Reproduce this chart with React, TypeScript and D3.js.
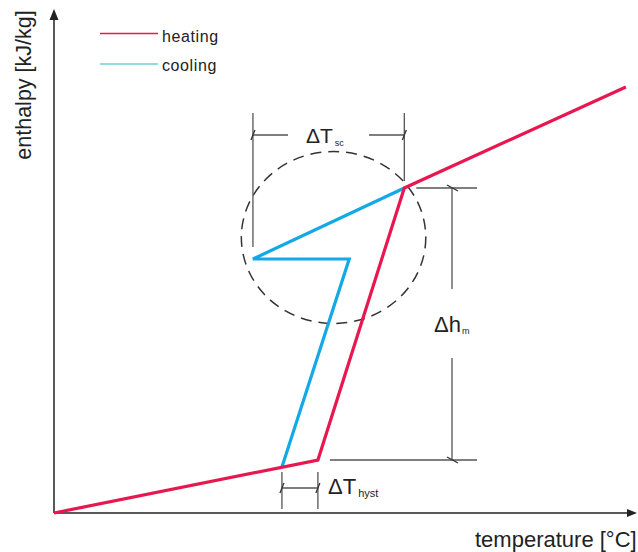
import React from "react";
import * as d3 from "d3";

// schematic values in arbitrary units (the sketch has no tick numbers)
const heatingT = [0, 45.5, 60.4, 98.6];
const heatingH = [0, 10.6, 65, 85.2];
const coolingT = [39.3, 50.9, 34.3, 60.4];
const coolingH = [9.2, 50.8, 50.8, 65];

// dashed circle around the supercooling loop
const circleCenter = [48.2, 55.1];
const circleRadius = [15.9, 17.2];

const seriesNames = ["heating", "cooling"];
const axisTitles = ["temperature [°C]", "enthalpy [kJ/kg]"];
const dimLabels = [
  ["ΔT", "sc"],
  ["Δh", "m"],
  ["ΔT", "hyst"],
];

const W = 638;
const H = 552;
const FONT = "'Liberation Sans', Arial, Helvetica, sans-serif";
const HEAT = "#e8174f";
const COOL = "#13a9e6";
const DIM = "#555";

const App = () => {
  const x = d3.scaleLinear().domain([0, 100]).range([54, 634]);
  const y = d3.scaleLinear().domain([0, 100]).range([513, 13]);

  const line = d3
    .line<number>()
    .x((d) => x(d))
    .curve(d3.curveLinear);

  const heatPath = d3
    .line<number>()
    .x((d, i) => x(heatingT[i]))
    .y((d) => y(d))(heatingH);
  const coolPath = d3
    .line<number>()
    .x((d, i) => x(coolingT[i]))
    .y((d) => y(d))(coolingH);

  // key positions for the dimension lines
  const peakX = x(heatingT[2]);
  const peakY = y(heatingH[2]);
  const kinkX = x(heatingT[1]);
  const kinkY = y(heatingH[1]);
  const scLeftX = x(coolingT[2]);
  const scLeftY = y(coolingH[2]);
  const hystLeftX = x(coolingT[0]);

  // small slanted ticks where dimension lines meet extension lines
  const hTick = (px: number, py: number, k: string) => (
    <line key={k} x1={px - 2} y1={py + 5} x2={px + 2} y2={py - 5} stroke="#333" strokeWidth={1.3} />
  );
  const vTick = (px: number, py: number, k: string) => (
    <line key={k} x1={px - 5} y1={py - 3} x2={px + 6} y2={py + 3} stroke="#333" strokeWidth={1.3} />
  );

  const scY = 135;
  const dimX = 452;
  const hystY = 488;

  return (
    <svg
      width={W}
      height={H}
      style={{ position: "absolute", left: 0, top: 0, background: "#fff", fontFamily: FONT }}
    >
      {/* axes */}
      <g stroke="#222" strokeWidth={1.5}>
        <line x1={x(0)} y1={y(0)} x2={630} y2={y(0)} />
        <line x1={x(0)} y1={y(0)} x2={x(0)} y2={16} />
      </g>
      <polygon points={`637,${y(0)} 627,${y(0) - 4} 627,${y(0) + 4}`} fill="#222" />
      <polygon points={`${x(0)},9 ${x(0) - 4.5},20 ${x(0) + 4.5},20`} fill="#222" />
      <text x={475} y={547} fontSize={22} fill="#222">
        {axisTitles[0]}
      </text>
      <text transform="translate(31,85) rotate(-90)" textAnchor="middle" fontSize={21.5} fill="#222">
        {axisTitles[1]}
      </text>

      {/* legend */}
      <line x1={100} y1={33.5} x2={158} y2={33.5} stroke={HEAT} strokeWidth={1.3} />
      <line x1={100} y1={64} x2={158} y2={64} stroke="#6fcfd8" strokeWidth={1.3} />
      <text x={162} y={41.5} fontSize={16} letterSpacing={0.6} fill="#222">
        {seriesNames[0]}
      </text>
      <text x={162} y={70.5} fontSize={16} letterSpacing={0.6} fill="#222">
        {seriesNames[1]}
      </text>

      {/* dashed circle */}
      <ellipse
        cx={x(circleCenter[0])}
        cy={y(circleCenter[1])}
        rx={x(circleRadius[0]) - x(0)}
        ry={y(0) - y(circleRadius[1])}
        fill="none"
        stroke="#333"
        strokeWidth={1.5}
        strokeDasharray="11 7"
      />

      {/* ΔT_sc dimension */}
      <g stroke={DIM} strokeWidth={1.3}>
        <line x1={scLeftX} y1={113} x2={scLeftX} y2={scLeftY - 12} />
        <line x1={peakX} y1={113} x2={peakX} y2={peakY - 7} />
        <line x1={scLeftX} y1={scY} x2={288} y2={scY} />
        <line x1={369} y1={scY} x2={peakX} y2={scY} />
      </g>
      {hTick(scLeftX, scY, "t1")}
      {hTick(peakX, scY, "t2")}
      <text x={306} y={143} fontSize={21} fill="#222">
        {dimLabels[0][0]}
        <tspan fontSize={9} dx={2} dy={3}>
          {dimLabels[0][1]}
        </tspan>
      </text>

      {/* Δh_m dimension */}
      <g stroke={DIM} strokeWidth={1.3}>
        <line x1={peakX + 12} y1={peakY} x2={477} y2={peakY} />
        <line x1={kinkX + 12} y1={kinkY} x2={477} y2={kinkY} />
        <line x1={dimX} y1={peakY} x2={dimX} y2={289} />
        <line x1={dimX} y1={358} x2={dimX} y2={kinkY} />
      </g>
      {vTick(dimX, peakY, "t3")}
      {vTick(dimX, kinkY, "t4")}
      <text x={434} y={332} fontSize={22} fill="#222">
        {dimLabels[1][0]}
        <tspan fontSize={9} dx={1} dy={2}>
          {dimLabels[1][1]}
        </tspan>
      </text>

      {/* ΔT_hyst dimension */}
      <g stroke={DIM} strokeWidth={1.3}>
        <line x1={hystLeftX} y1={472} x2={hystLeftX} y2={509} />
        <line x1={kinkX} y1={472} x2={kinkX} y2={509} />
        <line x1={hystLeftX} y1={hystY} x2={kinkX} y2={hystY} />
      </g>
      {hTick(hystLeftX, hystY, "t5")}
      {hTick(kinkX, hystY, "t6")}
      <text x={328} y={494} fontSize={22} fill="#222">
        {dimLabels[2][0]}
        <tspan fontSize={11} dx={2} dy={3}>
          {dimLabels[2][1]}
        </tspan>
      </text>

      {/* curves */}
      <path d={coolPath ?? ""} fill="none" stroke={COOL} strokeWidth={3.2} strokeLinejoin="miter" />
      <path d={heatPath ?? ""} fill="none" stroke={HEAT} strokeWidth={3.2} strokeLinejoin="miter" />
    </svg>
  );
};

export default App;
